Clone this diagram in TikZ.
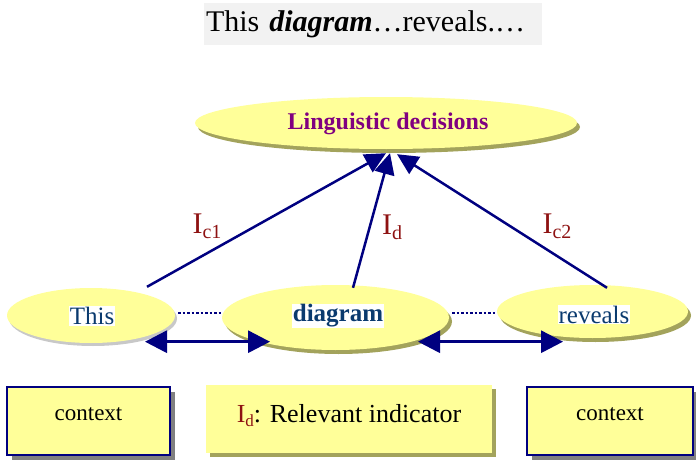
\documentclass[tikz,border=0pt]{standalone}
\usepackage{fontspec}
\setmainfont{Liberation Serif}
\usetikzlibrary{shapes.geometric,arrows.meta,shadows}
\definecolor{ylw}{HTML}{FFFF99}
\definecolor{navy}{HTML}{000080}
\definecolor{olv}{HTML}{A3A35C}
\definecolor{lgray}{HTML}{C8C8C8}
\definecolor{dgray}{HTML}{808080}
\definecolor{purp}{HTML}{800080}
\definecolor{dblue}{HTML}{0A3A6E}
\definecolor{dred}{HTML}{8E1212}
\definecolor{titlebg}{HTML}{F2F2F2}
\newcommand{\fs}[1]{\fontsize{#1}{#1}\selectfont}
\newcommand{\Ilab}[1]{\textcolor{dred}{I\raisebox{-0.18em}{\fontsize{20}{20}\selectfont #1}}}
\begin{document}
\begin{tikzpicture}[x=1pt,y=-1pt,
  ell/.style={ellipse, fill=ylw, inner sep=0pt},
  olvshadow/.style={drop shadow={shadow xshift=3pt,shadow yshift=-4pt,fill=olv,opacity=1}},
  grayshadow/.style={drop shadow={shadow xshift=2pt,shadow yshift=-3pt,fill=lgray,opacity=1}},
  word/.style={fill=white, inner sep=1pt, text=dblue, font=\fs{25}},
  conn/.style={draw=navy, line width=2.5pt, -{Triangle[length=21pt,width=20pt]}},
  dbl/.style={draw=navy, line width=3pt, {Triangle[length=22pt,width=22pt]}-{Triangle[length=22pt,width=22pt]}},
  dots/.style={draw=navy, line width=2.5pt, dash pattern=on 2.5pt off 2pt},
  lab/.style={font=\fs{30}},
  box/.style={rectangle, fill=ylw, inner sep=0pt, text height=14pt, text depth=16pt}
]
\useasboundingbox (0,0) rectangle (696,460);

% title
\node[fill=titlebg, text width=338pt, align=left, minimum height=42pt, inner sep=0pt, font=\fs{30}] (title) at (373,24)
  {\hspace*{2pt}This \textbf{\textit{diagram}}…reveals.…};

% ellipses
\node[ell, olvshadow, minimum width=382pt, minimum height=52pt] (top) at (386,123) {};
\node[text=purp, font=\bfseries\fs{24}] (toptext) at (388,124) {Linguistic decisions};

\node[ell, grayshadow, minimum width=168pt, minimum height=55pt] (this) at (91,315.5) {};
\node[ell, olvshadow, minimum width=227pt, minimum height=65pt] (dia) at (335.5,317.5) {};
\node[ell, olvshadow, minimum width=191pt, minimum height=53pt] (rev) at (592.5,311.5) {};

% connectors to top
\draw[conn] ([shift={(56,-1)}]this.north) -- ([shift={(0,4)}]top.south);
\draw[conn] ([shift={(17.5,3)}]dia.north) -- ([shift={(4,4)}]top.south);
\draw[conn] ([shift={(14.5,3)}]rev.north) -- ([shift={(11,5)}]top.south);

% dotted links
\draw[dots] ([shift={(3,-2.5)}]this.east) -- ([shift={(1,-4.5)}]dia.west);
\draw[dots] ([shift={(3,-4.5)}]dia.east) -- ([shift={(0,1.5)}]rev.west);

% double arrows
\draw[dbl] ([shift={(54,-1.5)}]this.south) -- ([shift={(-65.5,-8.5)}]dia.south);
\draw[dbl] ([shift={(82.5,-8.5)}]dia.south) -- ([shift={(-29.5,3.5)}]rev.south);

% words
\node[word] (wthis) at (92,316) {This};
\node[word, font=\bfseries\fs{25}] (wdia) at (338,316) {diagram};
\node[word] (wrev) at (594,314.5) {reveals};

% labels
\node[lab] (lc1) at (207,226) {\Ilab{c1}};
\node[lab] (ld) at (392,227) {\Ilab{d}};
\node[lab] (lc2) at (557,226) {\Ilab{c2}};

% bottom boxes
\node[box, draw=navy, line width=1.5pt, minimum width=163pt, minimum height=68pt, font=\fs{23},
  drop shadow={shadow xshift=5pt,shadow yshift=-5pt,fill=dgray,opacity=1}] (ctx1) at (88.5,421) {context};
\node[box, minimum width=286pt, minimum height=68pt, font=\fs{26}, text height=18pt, text depth=12pt,
  drop shadow={shadow xshift=4pt,shadow yshift=-4pt,fill=olv,opacity=1}] (ind) at (349,419)
  {\textcolor{dred}{I\raisebox{-0.18em}{\fontsize{17}{17}\selectfont d}}: Relevant indicator};
\node[box, draw=navy, line width=1.5pt, minimum width=166pt, minimum height=68pt, font=\fs{23},
  drop shadow={shadow xshift=5pt,shadow yshift=-5pt,fill=dgray,opacity=1}] (ctx2) at (610,421) {context};
\end{tikzpicture}
\end{document}
